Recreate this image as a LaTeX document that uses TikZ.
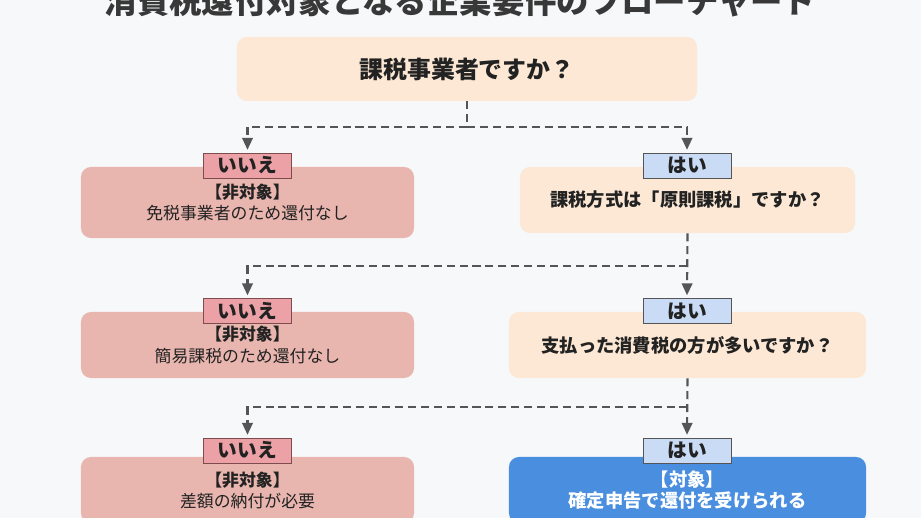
\documentclass[tikz,border=0pt]{standalone}
\usepackage{fontspec}
\setmainfont{Noto Sans CJK JP}
\usepackage{tikz}
\usetikzlibrary{arrows.meta}
\definecolor{bgcol}{HTML}{F7F8FA}
\definecolor{peach}{HTML}{FCE8D4}
\definecolor{salmon}{HTML}{E8B6AF}
\definecolor{nofill}{HTML}{EBA1A5}
\definecolor{noline}{HTML}{7E4C4C}
\definecolor{yesfill}{HTML}{C9DBF5}
\definecolor{okblue}{HTML}{4A8FDF}
\definecolor{linegray}{HTML}{555555}
\definecolor{ink}{HTML}{222222}

\begin{document}
\begin{tikzpicture}[x=0.025cm, y=-0.025cm,
  question/.style={rectangle, fill=peach, rounded corners=0.25cm, text=ink, font=\bfseries\fontsize{13}{16}\selectfont},
  nobox/.style={rectangle, fill=salmon, rounded corners=0.25cm, minimum width=8.325cm, minimum height=1.65cm, text=ink, align=center, font=\fontsize{12}{15}\selectfont},
  nolabel/.style={rectangle, draw=noline, fill=nofill, minimum width=2.2cm, minimum height=0.63cm, inner sep=0pt, text=ink, font=\bfseries\fontsize{14}{16}\selectfont},
  yeslabel/.style={nolabel, draw=linegray, fill=yesfill},
  flow/.style={linegray, line width=1.5pt, dash pattern=on 5.7pt off 3.5pt, -{Triangle[width=7.5pt,length=8.5pt]}, shorten >=2pt}]
\useasboundingbox (0,0) rectangle (921,518);
\fill[bgcol] (0,0) rectangle (921,518);
\clip (0,0) rectangle (921,518);

\node at (460,14) [anchor=base, text=ink!90, font=\bfseries\fontsize{23}{26}\selectfont] (title) {消費税還付対象となる企業要件のフローチャート};

% questions
\node at (467,69) [question, minimum width=11.5cm, minimum height=1.6cm, font=\bfseries\fontsize{17}{20}\selectfont] (q1) {課税事業者ですか？};
\node at (687.5,200) [question, minimum width=8.375cm, minimum height=1.65cm] (q2) {課税方式は「原則課税」ですか？};
\node at (687.5,345) [question, minimum width=8.925cm, minimum height=1.65cm] (q3) {支払った消費税の方が多いですか？};

% results
\node at (247.5,202.5) [nobox, minimum height=1.775cm] (no1) {\textbf{【非対象】}\\免税事業者のため還付なし};
\node at (247.5,345) [nobox] (no2) {\textbf{【非対象】}\\簡易課税のため還付なし};
\node at (247.5,490) [nobox] (no3) {\textbf{【非対象】}\\差額の納付が必要};
\node at (687.5,490) [nobox, fill=okblue, minimum width=8.925cm, text=white, font=\bfseries\fontsize{13}{15.5}\selectfont] (ok) {【対象】\\確定申告で還付を受けられる};

% answer tags
\node at (247.5,165.5) [nolabel] (nolab1) {いいえ};
\node at (687,165.5) [yeslabel] (yeslab1) {はい};
\node at (247.5,311) [nolabel] (nolab2) {いいえ};
\node at (687,311) [yeslabel] (yeslab2) {はい};
\node at (247.5,450.5) [nolabel] (nolab3) {いいえ};
\node at (687,450.5) [yeslabel] (yeslab3) {はい};

\coordinate (j1) at (467,127);
\coordinate (j2) at (687.5,266);
\coordinate (j3) at (687.5,407);

%\draw[flow] (q1.south) -- (j1);
\draw[flow, -] (q1.south) -- (j1);
\draw[flow] (j1) -| (nolab1.north);
\draw[flow] (j1) -| (yeslab1.north);

\draw[flow] (q2.south) -- (yeslab2.north);
\draw[flow] (j2) -| (nolab2.north);

\draw[flow] (q3.south) -- (yeslab3.north);
\draw[flow] (j3) -| (nolab3.north);
\end{tikzpicture}
\end{document}
